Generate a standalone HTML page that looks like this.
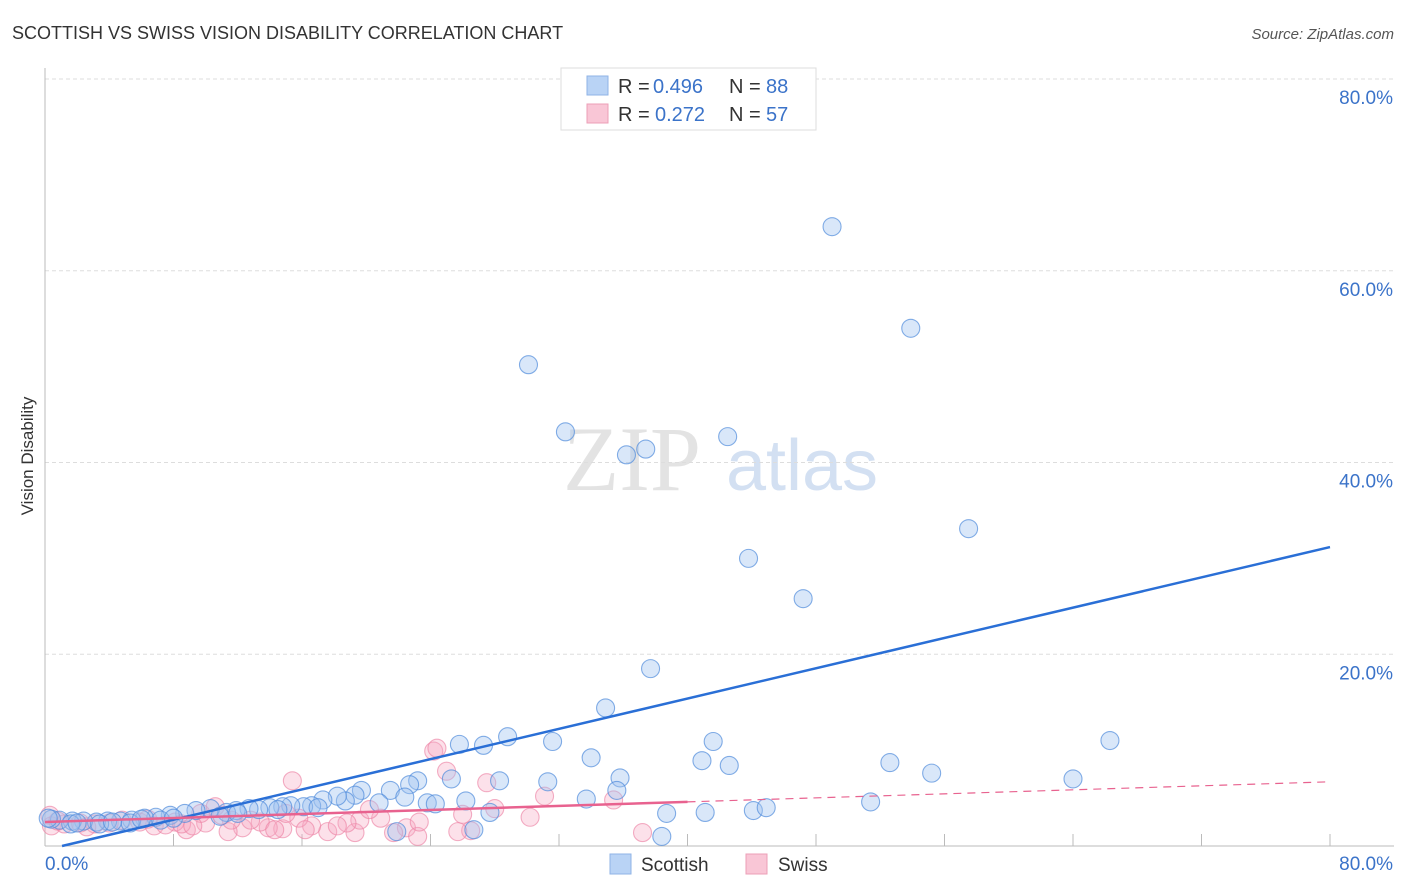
<!DOCTYPE html>
<html><head><meta charset="utf-8">
<style>
body{margin:0;background:#fff;font-family:"Liberation Sans",sans-serif;}
#wrap{position:relative;width:1406px;height:892px;overflow:hidden;}
</style></head>
<body>
<div id="wrap">
<svg id="chart" width="1406" height="892" xmlns="http://www.w3.org/2000/svg">
  <text x="12" y="39" font-size="18" fill="#333">SCOTTISH VS SWISS VISION DISABILITY CORRELATION CHART</text>
  <text x="1394" y="39" font-size="15" fill="#555" font-style="italic" text-anchor="end">Source: ZipAtlas.com</text>
  <text x="33" y="456" font-size="17" fill="#333" text-anchor="middle" transform="rotate(-90 33 456)">Vision Disability</text>
  <g>
    <text x="632" y="490" font-size="92" fill="#ddd" font-family="Liberation Serif, serif" text-anchor="middle" opacity="0.8">ZIP</text>
    <text x="802" y="490" font-size="72" fill="#c9d9f0" text-anchor="middle" opacity="0.8">atlas</text>
  </g>
  <g id="grid"></g>
  <g id="axes"></g>
  <g id="pink"></g>
  <g id="blue"></g>
  <g id="lines"></g>
  <g>
    <rect x="561" y="68" width="255" height="62" fill="#fff" stroke="#ddd"/>
    <rect x="587" y="76" width="21" height="19" fill="#b9d3f5" stroke="#8fb3e6"/>
    <rect x="587" y="104" width="21" height="19" fill="#f9c6d6" stroke="#ec9fb7"/>
    <g font-size="20">
      <text x="618" y="93" fill="#333">R =</text>
      <text x="653" y="93" fill="#3b73c9">0.496</text>
      <text x="729" y="93" fill="#333">N =</text>
      <text x="766" y="93" fill="#3b73c9">88</text>
    </g>
    <g font-size="20">
      <text x="618" y="121" fill="#333">R =</text>
      <text x="655" y="121" fill="#3b73c9">0.272</text>
      <text x="729" y="121" fill="#333">N =</text>
      <text x="766" y="121" fill="#3b73c9">57</text>
    </g>
  </g>
  <g>
    <rect x="610" y="854" width="21" height="20" fill="#b9d3f5" stroke="#8fb3e6"/>
    <text x="641" y="871" font-size="19" fill="#333">Scottish</text>
    <rect x="746" y="854" width="21" height="20" fill="#f9c6d6" stroke="#ec9fb7"/>
    <text x="778" y="871" font-size="19" fill="#333">Swiss</text>
  </g>
</svg>
</div>
<script>
const yTicks=[20,40,60,80];
const yTickLabels=["20.0%","40.0%","60.0%","80.0%"];
const xTickLabels=["0.0%","80.0%"];
const scottishX=[49.0,53.9,30.1,32.4,42.5,36.2,37.4,57.5,43.8,47.2,37.7,34.9,28.8,25.8,27.3,31.6,41.6,66.3,34.0,40.9,42.6,52.6,55.2,64.0,35.8,31.3,28.3,25.3,23.2,22.7,21.5,19.7,19.3,35.6,33.7,26.2,23.8,24.3,22.4,20.8,18.7,18.2,17.3,16.6,16.1,15.3,14.8,14.0,13.3,12.7,11.9,11.3,10.3,9.4,8.7,7.8,6.9,6.2,5.4,4.7,3.9,3.2,2.4,1.7,0.9,0.4,27.7,38.7,41.1,44.1,44.9,51.4,38.4,21.9,26.7,10.9,7.2,3.4,1.6,5.3,0.2,2.0,4.2,6.0,8.0,12.0,14.5,17.0];
const scottishY=[64.6,54.0,50.2,43.2,42.7,40.8,41.4,33.1,30.0,25.8,18.5,14.4,11.4,10.6,10.5,10.9,10.9,11.0,9.2,8.9,8.4,8.7,7.6,7.0,7.1,6.7,6.8,7.0,6.8,6.4,5.8,5.8,5.3,5.8,4.9,4.7,4.5,4.4,5.1,4.5,4.7,5.2,4.8,4.2,4.1,4.2,4.1,4.0,3.8,3.9,3.7,3.5,3.9,3.7,3.4,3.2,3.0,2.9,2.7,2.6,2.6,2.5,2.6,2.6,2.7,2.8,3.5,3.4,3.5,3.7,4.0,4.6,1.0,1.5,1.7,3.1,2.7,2.3,2.3,2.4,2.9,2.4,2.5,2.8,2.9,3.4,3.8,4.0];
const swissX=[24.2,24.4,15.4,25.0,27.5,31.1,35.4,30.2,37.2,26.5,25.7,22.5,21.7,23.2,19.3,17.6,16.6,14.8,13.9,12.3,11.4,8.8,6.8,19.6,20.9,18.8,15.8,13.4,11.6,10.0,8.1,9.7,10.6,4.8,0.3,0.4,1.2,2.2,3.1,4.0,5.9,7.5,8.5,20.2,12.8,14.3,18.2,16.2,23.3,26.0,28.0,2.6,6.4,9.2,15.0,11.0,0.8];
const swissY=[9.9,10.2,6.8,7.8,6.6,5.2,4.8,3.0,1.4,1.6,1.5,1.9,1.4,1.0,1.4,1.5,2.1,1.8,1.9,1.9,1.5,1.7,2.1,2.7,2.9,2.4,2.9,2.5,2.7,2.4,2.5,3.4,4.1,2.7,3.2,2.1,2.3,2.4,2.3,2.4,2.5,2.2,2.3,3.8,2.7,1.7,2.1,1.7,2.5,3.3,3.9,2.0,2.8,2.1,3.4,3.2,2.6];
const trendScottish=[-0.42,0.395];
const trendSwiss=[2.5,0.0525];
const NS="http://www.w3.org/2000/svg";
function sx(v){return 45+v*(1285/80);}
function sy(v){return 846-v*(767/80);}
function mk(tag,attrs,parent){const e=document.createElementNS(NS,tag);for(const k in attrs)e.setAttribute(k,attrs[k]);parent.appendChild(e);return e;}
const grid=document.getElementById('grid'),axes=document.getElementById('axes');
yTicks.forEach((t,i)=>{
  const l=mk('line',{x1:45,x2:1394,y1:sy(t),y2:sy(t),stroke:'#ddd','stroke-dasharray':'4,3'},grid);
  
  
  const tx=mk('text',{x:1393,y:sy(t)+25,'font-size':19,fill:'#3b73c9','text-anchor':'end'},axes);
  tx.textContent=yTickLabels[i];
  
  
});
const ya=mk('line',{x1:45,x2:45,y1:68,y2:846,stroke:'#bbb'},axes);


const xa=mk('line',{x1:45,x2:1394,y1:846,y2:846,stroke:'#bbb'},axes);


for(let i=1;i<=10;i++){const x=45+i*128.5;const t=mk('line',{x1:x,x2:x,y1:834,y2:846,stroke:'#bbb'},axes);
  
  }
[[0,45,'start'],[1,1393,'end']].forEach(([i,x,a])=>{const t=mk('text',{x:x,y:870,'font-size':19,fill:'#3b73c9','text-anchor':a},axes);t.textContent=xTickLabels[i];
  
  });
const pg=document.getElementById('pink');
swissX.forEach((v,i)=>{const c=mk('circle',{cx:sx(v),cy:sy(swissY[i]),r:9,fill:'rgba(246,170,195,0.35)',stroke:'rgba(236,130,165,0.65)','stroke-width':1.1},pg);
  
  });
const bg=document.getElementById('blue');
scottishX.forEach((v,i)=>{const c=mk('circle',{cx:sx(v),cy:sy(scottishY[i]),r:9,fill:'rgba(160,196,240,0.4)',stroke:'rgba(80,140,220,0.7)','stroke-width':1.1},bg);
  
  });
const lg=document.getElementById('lines');
let x0=1.06,x1=80;
const bl=mk('line',{x1:sx(x0),y1:sy(trendScottish[0]+trendScottish[1]*x0),x2:sx(x1),y2:sy(trendScottish[0]+trendScottish[1]*x1),stroke:'#2a6fd6','stroke-width':2.5},lg);


const pl=mk('line',{x1:sx(0),y1:sy(trendSwiss[0]),x2:sx(40),y2:sy(trendSwiss[0]+trendSwiss[1]*40),stroke:'#e8628f','stroke-width':2.5},lg);


const pd=mk('line',{x1:sx(40),y1:sy(trendSwiss[0]+trendSwiss[1]*40),x2:sx(80),y2:sy(trendSwiss[0]+trendSwiss[1]*80),stroke:'#e8628f','stroke-width':1.2,'stroke-dasharray':'8,6'},lg);


</script>
</body></html>
